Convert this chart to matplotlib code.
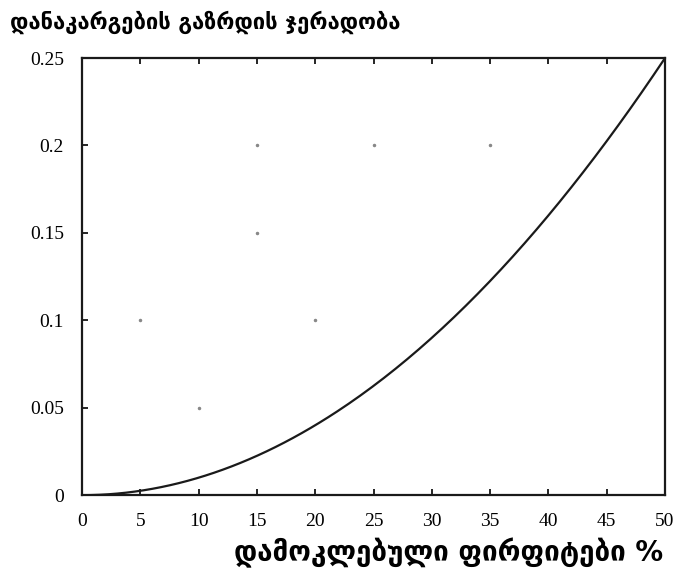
import numpy as np
import matplotlib
matplotlib.use("Agg")
import matplotlib.pyplot as plt

# values
pct = [0, 5, 10, 15, 20, 25, 30, 35, 40, 45, 50]
ratio = [0.0, 0.0025, 0.01, 0.0225, 0.04, 0.0625, 0.09, 0.1225, 0.16, 0.2025, 0.25]

# stray specks in the scanned plot area
speck_x = [15, 25, 35, 15, 5, 20, 10]
speck_y = [0.2, 0.2, 0.2, 0.15, 0.1, 0.1, 0.05]

xticks = [0, 5, 10, 15, 20, 25, 30, 35, 40, 45, 50]
yticks = [0, 0.05, 0.1, 0.15, 0.2, 0.25]
ytick_labels = ["0", "0.05", "0.1", "0.15", "0.2", "0.25"]

title = "დანაკარგების გაზრდის ჯერადობა"
xlabel = "დამოკლებული ფირფიტები %"

fig = plt.figure(figsize=(6.8, 5.86), dpi=100)
ax = fig.add_axes([0.1206, 0.155, 0.8574, 0.746])

# smooth curve through the read points
coef = np.polyfit(pct, ratio, 2)
xs = np.linspace(0, 50, 200)
ax.plot(xs, np.polyval(coef, xs), color="#1a1a1a", lw=1.6)
ax.plot(speck_x, speck_y, ls="none", marker="o", ms=1.5, color="#888888")

ax.set_xlim(0, 50)
ax.set_ylim(0, 0.25)
ax.set_xticks(xticks)
ax.set_yticks(yticks)
ax.set_yticklabels(ytick_labels)
ax.tick_params(direction="in", length=4, width=1.2, top=True, right=False,
               labelsize=14, pad=13)
for lbl in ax.get_xticklabels() + ax.get_yticklabels():
    lbl.set_fontfamily("Liberation Serif")
for s in ax.spines.values():
    s.set_linewidth(1.6)
    s.set_color("#1a1a1a")

fig.text(0.015, 0.962, title, fontsize=15.8, fontweight="bold",
         family="DejaVu Sans", ha="left", va="center")
fig.text(0.975, 0.056, xlabel, fontsize=20, fontweight="bold",
         family="DejaVu Sans", ha="right", va="center")

fig.savefig("out.png", dpi=100)
